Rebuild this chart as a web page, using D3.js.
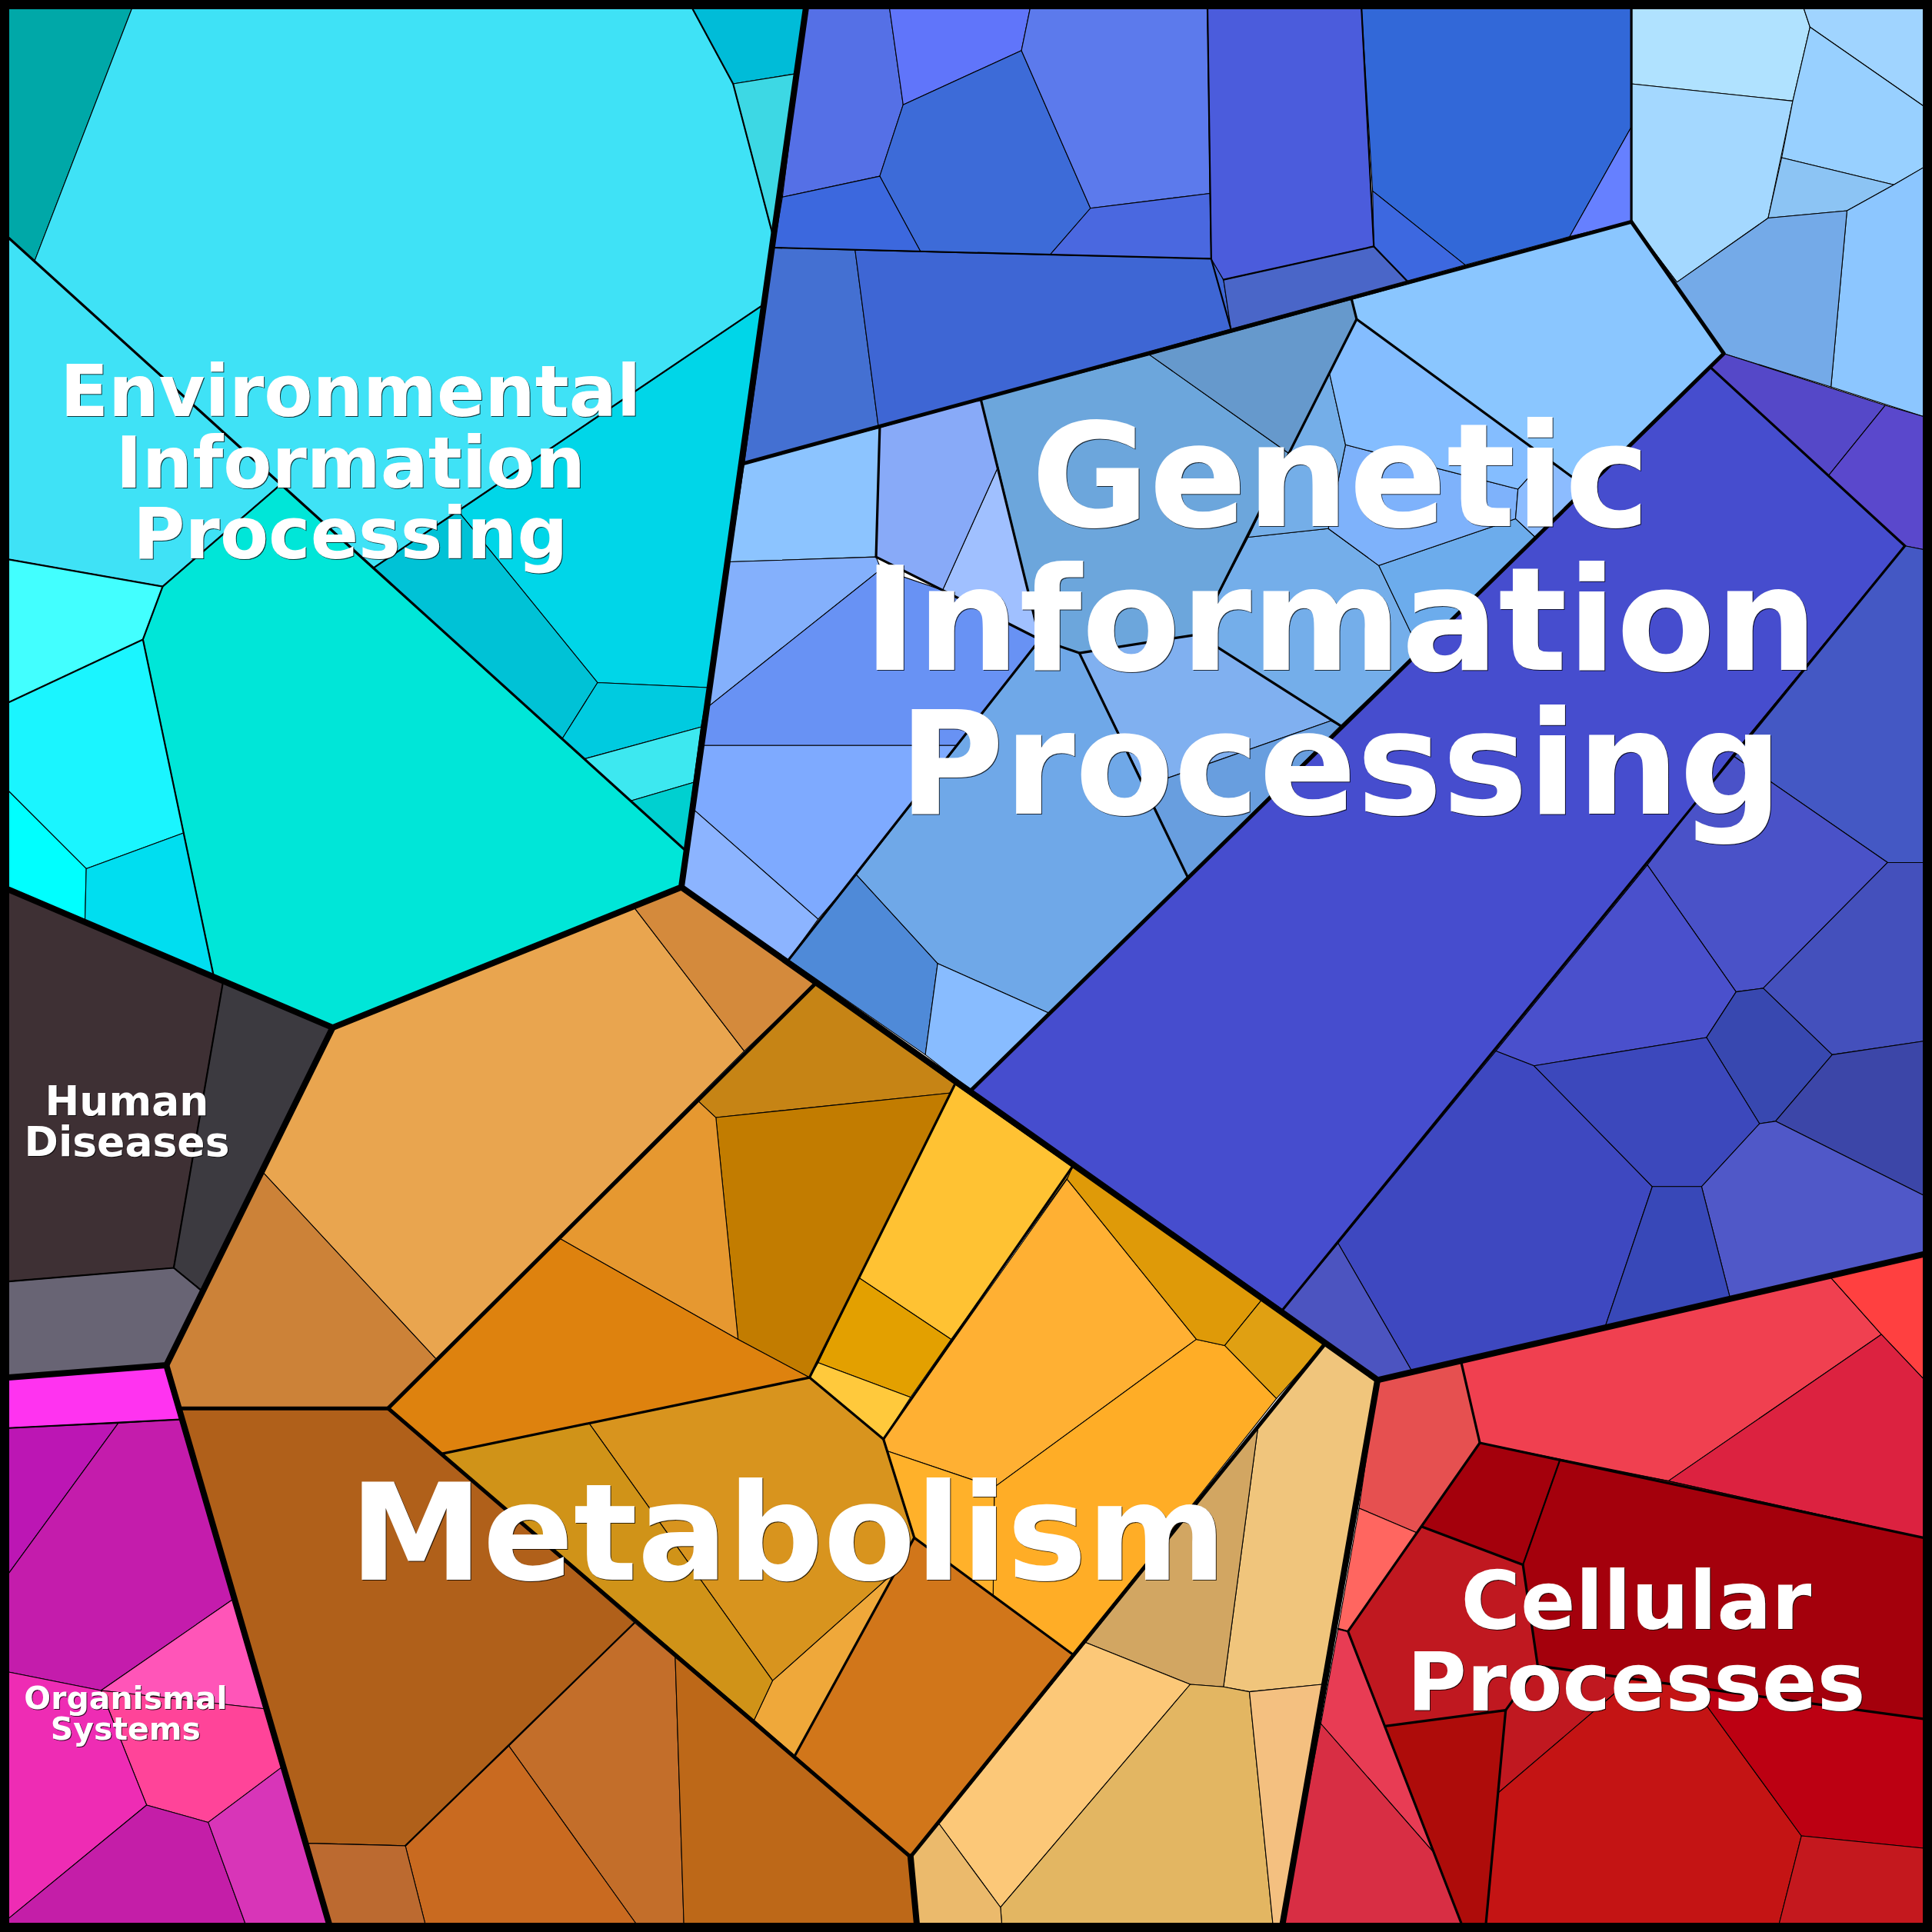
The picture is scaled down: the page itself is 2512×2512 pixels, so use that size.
<!DOCTYPE html>
<html><head><meta charset="utf-8"><style>html,body{margin:0;padding:0;background:#fff}svg{display:block}</style>
<script src="https://cdn.jsdelivr.net/npm/d3@7"></script></head><body><svg id="c"></svg>
<script>
const environmentalColors=["#00a8a8","#3fe2f6","#3fe2f6","#00e6d8","#42ffff","#1af5ff","#00ffff","#00def0","#00d6e8","#00c2d6","#00cbe0","#3de8f0","#00d0d0","#00bcd8","#3dd8e4"];
const environmentalCells=[
[[7,7],[107,7],[28,212],[7,193]],
[[107,7],[562,7],[595,68],[627,190],[620,247],[303,461],[28,212]],
[[7,193],[228,393],[132,476],[7,454]],
[[228,393],[556,690],[553,720],[270,834],[174,795],[149,676],[116,519],[132,476]],
[[7,454],[132,476],[116,519],[7,570]],
[[7,570],[116,519],[149,676],[70,705],[7,642]],
[[7,642],[70,705],[69,747],[7,722]],
[[70,705],[149,676],[174,795],[69,747]],
[[620,247],[575,558],[485,554],[372,415]],
[[303,461],[372,415],[485,554],[456,600]],
[[456,600],[485,554],[575,558],[569,590],[474,616]],
[[474,616],[569,590],[563,635],[512,650]],
[[512,650],[563,635],[556,690]],
[[562,7],[654,7],[645,60],[595,68]],
[[595,68],[645,60],[627,190]]];
const geneticTopColors=["#5570e6","#6075fa","#3d6bd8","#5c7aec","#4a68e0","#3c68de","#4470d2","#3e66d4","#4b5cdc","#3268d8","#6680ff","#3d68e0","#4a66c8"];
const geneticTopCells=[
[[654,7],[722,7],[733,85],[714,143],[635,160]],
[[722,7],[836,7],[829,41],[733,85]],
[[733,85],[829,41],[885,169],[852,207],[747,204],[714,143]],
[[836,7],[980,7],[982,157],[885,169],[829,41]],
[[885,169],[982,157],[983,210],[852,207]],
[[635,160],[714,143],[747,204],[628,201]],
[[628,201],[694,203],[713,347],[604,376]],
[[694,203],[983,210],[993,227],[999,267],[713,347]],
[[980,7],[1105,7],[1115,200],[993,227],[983,210]],
[[1105,7],[1324,7],[1324,103],[1274,192],[1189,215],[1114,155]],
[[1324,103],[1324,180],[1274,192]],
[[1114,155],[1189,215],[1142,228],[1115,200]],
[[993,227],[1115,200],[1142,228],[999,267]]];
const geneticCornerColors=["#b0e2ff","#a0d4ff","#a4d8ff","#98d0ff","#8cc4f4","#8cc6ff","#74aae8"];
const geneticCornerCells=[
[[1324,7],[1464,7],[1469,22],[1455,82],[1324,68]],
[[1464,7],[1561,7],[1561,86],[1469,22]],
[[1324,68],[1455,82],[1435,177],[1361,229],[1324,180]],
[[1469,22],[1561,86],[1561,136],[1537,150],[1446,128],[1455,82]],
[[1446,128],[1537,150],[1499,171],[1435,177]],
[[1537,150],[1561,136],[1561,338],[1486,314],[1499,171]],
[[1361,229],[1435,177],[1499,171],[1486,314],[1399,287],[1324,180]]];
const geneticCenterColors=["#6ca6dc","#6699cc","#a0c0ff","#88aaf8","#8cc4ff","#84b0fc","#6892f4","#7eaaff","#8cb4ff","#6fa8e8","#4f8ad8","#88bcff","#80b0f0","#689edf","#74aeea","#6cacec","#7eb2fb","#74aee8","#84bdff","#8ac6ff","#8cbcff"];
const geneticCenterCells=[
[[796,324],[933,288],[1046,368],[1013,436],[972,515],[876,530],[844,519]],
[[933,288],[1097,243],[1101,259],[1046,368]],
[[810,379],[844,519],[765,479]],
[[714,347],[796,324],[810,379],[765,479],[711,452]],
[[604,376],[714,347],[711,452],[592,456]],
[[592,456],[711,452],[715,462],[573,575]],
[[573,575],[715,462],[765,479],[844,519],[779,605],[570,605]],
[[570,605],[779,605],[695,710],[664,746],[563,657]],
[[563,657],[664,746],[640,779],[553,720]],
[[876,530],[964,712],[851,822],[761,782],[695,710],[844,519]],
[[695,710],[761,782],[751,856],[640,779]],
[[761,782],[851,822],[788,885],[751,856]],
[[876,530],[972,515],[1088,589],[1080,585],[929,638]],
[[929,638],[1080,585],[1088,589],[964,712]],
[[1013,436],[1078,429],[1119,459],[1152,528],[1088,589],[972,515]],
[[1119,459],[1230,421],[1246,436],[1152,528]],
[[1092,361],[1232,397],[1230,421],[1119,459],[1078,429]],
[[1079,303],[1092,361],[1078,429],[1013,436],[1046,368]],
[[1101,259],[1255,372],[1232,397],[1092,361],[1079,303]],
[[1097,243],[1324,180],[1399,287],[1288,396],[1101,259]],
[[1255,372],[1288,396],[1246,436],[1230,421],[1232,397]]];
const geneticPurpleColors=["#5548c8","#5a48cc","#464dce","#4458c4","#4a52c8","#4450bc","#4a50cc","#3848b0","#3e48c0","#3c48bc","#3c46a8","#5058c8","#3848b8","#4c54c0"];
const geneticPurpleCells=[
[[1399,287],[1530,329],[1484,386],[1388,298]],
[[1530,329],[1561,338],[1561,446],[1546,443],[1484,386]],
[[1388,298],[1484,386],[1546,443],[1406,613],[1337,702],[1214,853],[1086,1009],[1041,1063],[788,885]],
[[1546,443],[1561,446],[1561,700],[1532,700],[1406,613]],
[[1406,613],[1532,700],[1431,802],[1409,805],[1337,702]],
[[1532,700],[1561,700],[1561,845],[1487,856],[1431,802]],
[[1337,702],[1409,805],[1385,842],[1245,865],[1214,853]],
[[1409,805],[1431,802],[1487,856],[1441,910],[1428,912],[1385,842]],
[[1214,853],[1245,865],[1341,963],[1303,1076],[1146,1113],[1086,1009]],
[[1245,865],[1385,842],[1428,912],[1381,963],[1341,963]],
[[1487,856],[1561,845],[1561,970],[1441,910]],
[[1428,912],[1441,910],[1561,970],[1561,1018],[1404,1053],[1381,963]],
[[1341,963],[1381,963],[1404,1053],[1303,1076]],
[[1086,1009],[1146,1113],[1118,1120],[1041,1063]]];
const metabolismColors=["#e9a54f","#cc8238","#d48a3c","#c68415","#c27c00","#e69830","#de820e","#ffc233","#e3a000","#ffc93c","#ffb033","#ffad26","#ffb12a","#d1761a","#efa83a","#d8941e","#d09318","#b0601a","#c36e2a","#bd6818","#c96a20","#bc6a30","#df9a08","#e0a012","#f0c57c","#d2a662","#fcc878","#e3b662","#f4c080","#ebba6c"];
const metabolismCells=[
[[515,737],[604,853],[354,1103],[213,951],[270,834]],
[[213,951],[354,1103],[315,1143],[146,1143],[135,1108]],
[[515,737],[553,720],[662,798],[604,853]],
[[662,798],[775,880],[772,887],[581,907],[566,893]],
[[581,907],[772,887],[657,1118],[599,1087]],
[[566,893],[581,907],[599,1087],[454,1005]],
[[454,1005],[599,1087],[657,1118],[358,1180],[315,1143]],
[[775,880],[872,948],[772,1087],[697,1037]],
[[697,1037],[772,1087],[739,1134],[664,1106]],
[[664,1106],[739,1134],[717,1168],[657,1118]],
[[866,957],[971,1087],[807,1207],[718,1177],[717,1168]],
[[971,1087],[994,1092],[1036,1135],[871,1343],[806,1295],[807,1207]],
[[718,1177],[807,1207],[806,1295],[742,1248]],
[[742,1248],[806,1295],[871,1343],[739,1507],[645,1425]],
[[727,1275],[645,1425],[612,1396],[627,1364]],
[[478,1155],[657,1118],[717,1168],[742,1248],[727,1275],[627,1364]],
[[358,1180],[478,1155],[627,1364],[612,1396]],
[[146,1143],[315,1143],[358,1180],[515,1317],[329,1498],[250,1496]],
[[515,1317],[548,1345],[555,1561],[516,1561],[413,1417]],
[[548,1345],[739,1507],[744,1561],[555,1561]],
[[413,1417],[516,1561],[345,1561],[329,1498]],
[[250,1496],[329,1498],[345,1561],[267,1561]],
[[871,946],[1024,1055],[994,1092],[971,1087],[866,957]],
[[1024,1055],[1075,1091],[1036,1135],[994,1092]],
[[1075,1091],[1118,1120],[1073,1367],[1014,1373],[993,1369],[1021,1158]],
[[1021,1158],[993,1369],[966,1367],[881,1333]],
[[881,1333],[966,1367],[812,1548],[762,1480]],
[[966,1367],[993,1369],[1014,1373],[1033,1561],[813,1561],[812,1548]],
[[1014,1373],[1073,1367],[1041,1561],[1033,1561]],
[[762,1480],[812,1548],[813,1561],[744,1561],[739,1507]]];
const humanColors=["#3e3034","#3c3a40","#686474"];
const humanCells=[
[[7,722],[181,797],[141,1029],[7,1040]],
[[181,797],[270,834],[163,1047],[141,1029]],
[[7,1040],[141,1029],[163,1047],[135,1108],[7,1118]]];
const organismalColors=["#ff33f0","#bc16b4","#c41cac","#ff55b8","#ff4499","#ee2cb4","#c41ea8","#d835b8"];
const organismalCells=[
[[7,1118],[135,1108],[146,1152],[7,1159]],
[[7,1159],[96,1155],[7,1277]],
[[96,1155],[146,1152],[189,1298],[82,1372],[7,1357],[7,1277]],
[[189,1298],[216,1387],[82,1372]],
[[82,1372],[216,1387],[229,1434],[169,1479],[119,1465]],
[[7,1357],[82,1372],[119,1465],[7,1557]],
[[119,1465],[169,1479],[199,1561],[7,1561],[7,1557]],
[[169,1479],[229,1434],[267,1561],[199,1561]]];
const cellularColors=["#e65050","#ff6660","#f04050","#ff4040","#dc2240","#a4000c","#a4000c","#c01820","#c01820","#c41414","#bc0012","#c4181e","#ae0c0a","#e83c54","#d82e44"];
const cellularCells=[
[[1118,1120],[1186,1106],[1201,1171],[1150,1244],[1103,1224]],
[[1103,1224],[1150,1244],[1094,1324],[1086,1322]],
[[1186,1106],[1486,1037],[1527,1083],[1354,1202],[1201,1171]],
[[1486,1037],[1561,1018],[1561,1119],[1527,1083]],
[[1527,1083],[1561,1119],[1561,1248],[1354,1202]],
[[1201,1171],[1266,1185],[1236,1270],[1154,1239]],
[[1266,1185],[1354,1202],[1561,1248],[1561,1395],[1374,1369],[1248,1352],[1236,1270]],
[[1154,1239],[1236,1270],[1248,1352],[1222,1388],[1124,1401],[1094,1324]],
[[1248,1352],[1325,1362],[1216,1455],[1222,1388]],
[[1325,1362],[1374,1369],[1462,1490],[1444,1561],[1206,1561],[1216,1455]],
[[1374,1369],[1561,1395],[1561,1500],[1462,1490]],
[[1462,1490],[1561,1500],[1561,1561],[1444,1561]],
[[1124,1401],[1222,1388],[1206,1561],[1186,1561]],
[[1086,1322],[1094,1324],[1164,1504],[1072,1399]],
[[1072,1399],[1164,1504],[1186,1561],[1041,1561]]];
const minorLines=[
[[620,247],[303,461]],[[7,454],[132,476],[228,393]],[[132,476],[116,519],[149,676],[174,795]],[[116,519],[7,570]],[[562,7],[595,68],[627,190]],
[[628,201],[983,210],[999,267]],[[980,7],[983,210]],[[1105,7],[1115,200],[993,227]],[[1115,200],[1142,228]],
[[515,1317],[329,1498]],
[[181,797],[141,1029],[163,1047]],[[7,1040],[141,1029]],[[7,1159],[146,1152]],[[1266,1185],[1236,1270]],[[1086,1322],[1094,1324]]];
const branchLines=[
[[7,193],[556,690]],[[1324,7],[1324,180]],
[[796,324],[844,519],[876,530],[972,515],[1101,259],[1097,243]],[[714,347],[711,452],[765,479],[844,519],[640,779]],[[876,530],[964,712]],[[1101,259],[1288,396]],[[972,515],[1088,589]],
[[1388,298],[1546,443],[1041,1063]],
[[358,1180],[657,1118],[775,880]],[[657,1118],[717,1168],[871,946]],[[717,1168],[742,1248],[645,1425]],[[742,1248],[871,1343]],
[[1186,1106],[1201,1171],[1094,1324],[1186,1561]],[[1201,1171],[1561,1248]],[[1154,1239],[1236,1270],[1248,1352],[1561,1395]],[[1124,1401],[1222,1388],[1206,1561]],[[1248,1352],[1222,1388]]];
const divisionLines=[[[604,376],[1324,180],[1399,287],[788,885]],[[662,798],[315,1143],[146,1143]],[[315,1143],[739,1507]],[[1075,1091],[739,1507]]];
const categoryOutlines=[
[[7,722],[270,834],[553,720],[654,7]],[[553,720],[1118,1120],[1561,1018]],[[1118,1120],[1041,1561]],[[270,834],[135,1108],[7,1118]],[[135,1108],[267,1561]],[[739,1507],[744,1561]]];
const environmentalLabel=["Environmental","Information","Processing"];
const geneticLabel=["Genetic","Information","Processing"];
const metabolismLabel=["Metabolism"];
const cellularLabel=["Cellular","Processes"];
const humanLabel=["Human","Diseases"];
const organismalLabel=["Organismal","Systems"];

const S=2512;
const x=d3.scaleLinear().domain([0,1568]).range([0,S]);
const y=d3.scaleLinear().domain([0,1568]).range([0,S]);
const line=d3.line().x(d=>x(d[0])).y(d=>y(d[1]));
const svg=d3.select("#c").attr("width",S).attr("height",S).attr("viewBox",`0 0 ${S} ${S}`);
const groups=[[environmentalCells,environmentalColors],[geneticTopCells,geneticTopColors],[geneticCornerCells,geneticCornerColors],[geneticCenterCells,geneticCenterColors],[geneticPurpleCells,geneticPurpleColors],[metabolismCells,metabolismColors],[humanCells,humanColors],[organismalCells,organismalColors],[cellularCells,cellularColors]];
groups.forEach(([cells,cols])=>{
  svg.append("g").selectAll("path").data(cells).join("path")
    .attr("d",d=>line(d)+"Z").attr("fill",(d,i)=>cols[i]).attr("stroke","#000").attr("stroke-width",1.1).attr("stroke-linejoin","round");
});
const stroke=(data,w)=>svg.append("g").selectAll("path").data(data).join("path").attr("d",line).attr("fill","none").attr("stroke","#000").attr("stroke-width",w).attr("stroke-linejoin","round").attr("stroke-linecap","round");
stroke(minorLines,2.2);
stroke(branchLines,3.2);
stroke(divisionLines,5);
stroke(categoryOutlines,8);
svg.append("rect").attr("x",6).attr("y",6).attr("width",S-12).attr("height",S-12).attr("fill","none").attr("stroke","#000").attr("stroke-width",12);
const label=(lines,cx,base,size,lh)=>{
  svg.append("g").selectAll("text").data(lines).join("text")
    .attr("x",x(cx)).attr("y",(d,i)=>y(base)+i*lh).attr("text-anchor","middle")
    .attr("font-family","DejaVu Sans").attr("font-weight","bold").attr("font-size",size).attr("fill","#fff")
    .style("filter","drop-shadow(1.5px 1.5px 0.6px rgba(0,0,0,0.75))").text(d=>d);
};
label(environmentalLabel,284.5,338,92,92.5);
label(geneticLabel,1088,427,187,187);
label(metabolismLabel,639.5,1282,174,174);
label(cellularLabel,1328,1322,105.5,106);
label(humanLabel,103,905,53.5,53);
label(organismalLabel,102,1387,41,40);
</script></body></html>
